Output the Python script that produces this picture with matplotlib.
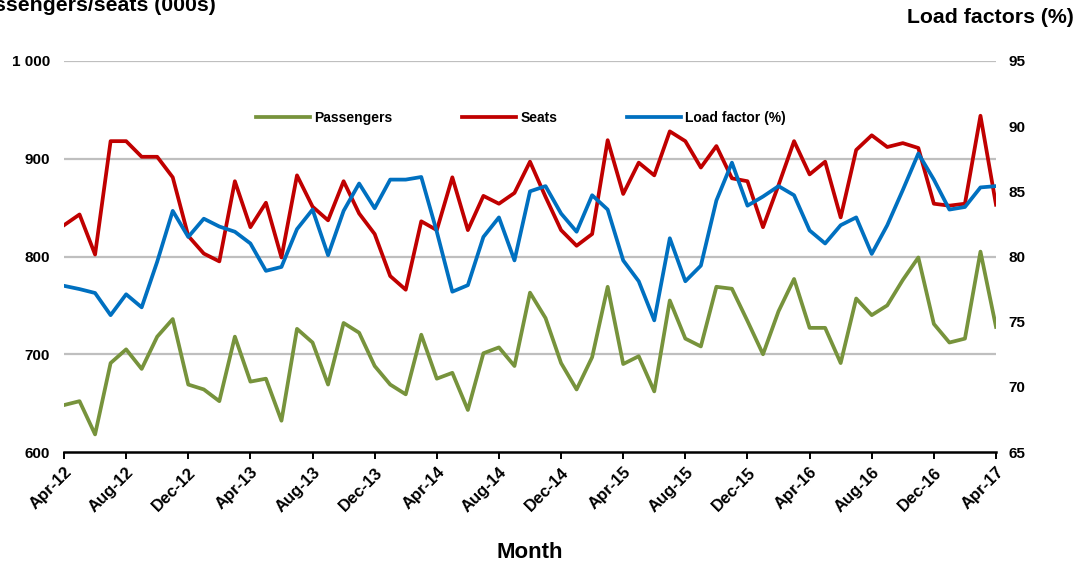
import matplotlib
matplotlib.use("Agg")
import matplotlib.pyplot as plt
from matplotlib.ticker import FuncFormatter
import numpy as np

plt.rcParams['font.family'] = ['Liberation Sans', 'DejaVu Sans']

months = ["Apr-12", "May-12", "Jun-12", "Jul-12", "Aug-12", "Sep-12", "Oct-12", "Nov-12", "Dec-12", "Jan-13",
          "Feb-13", "Mar-13", "Apr-13", "May-13", "Jun-13", "Jul-13", "Aug-13", "Sep-13", "Oct-13", "Nov-13",
          "Dec-13", "Jan-14", "Feb-14", "Mar-14", "Apr-14", "May-14", "Jun-14", "Jul-14", "Aug-14", "Sep-14",
          "Oct-14", "Nov-14", "Dec-14", "Jan-15", "Feb-15", "Mar-15", "Apr-15", "May-15", "Jun-15", "Jul-15",
          "Aug-15", "Sep-15", "Oct-15", "Nov-15", "Dec-15", "Jan-16", "Feb-16", "Mar-16", "Apr-16", "May-16",
          "Jun-16", "Jul-16", "Aug-16", "Sep-16", "Oct-16", "Nov-16", "Dec-16", "Jan-17", "Feb-17", "Mar-17",
          "Apr-17"]

passengers = [648, 652, 618, 691, 705, 685, 718, 736, 669, 664,
              652, 718, 672, 675, 632, 726, 712, 669, 732, 722,
              688, 669, 659, 720, 675, 681, 643, 701, 707, 688,
              763, 737, 691, 664, 697, 769, 690, 698, 662, 755,
              716, 708, 769, 767, 734, 700, 744, 777, 727, 727,
              691, 757, 740, 750, 776, 799, 731, 712, 716, 805,
              728]

seats = [832, 843, 802, 918, 918, 902, 902, 881, 821, 803,
         795, 877, 830, 855, 799, 883, 851, 837, 877, 844,
         823, 780, 766, 836, 827, 881, 827, 862, 854, 865,
         897, 861, 827, 811, 823, 919, 864, 896, 883, 928,
         918, 891, 913, 880, 877, 830, 873, 918, 884, 897,
         840, 909, 924, 912, 916, 911, 854, 852, 854, 944,
         853]

load_factor = [77.75, 77.5, 77.2, 75.5, 77.1, 76.1, 79.6, 83.5, 81.5, 82.9,
               82.3, 81.9, 81.0, 78.9, 79.2, 82.1, 83.6, 80.1, 83.5, 85.6,
               83.7, 85.9, 85.9, 86.1, 81.9, 77.3, 77.8, 81.5, 83.0, 79.7,
               85.0, 85.4, 83.3, 81.9, 84.7, 83.6, 79.7, 78.1, 75.1, 81.4,
               78.1, 79.3, 84.3, 87.2, 83.9, 84.6, 85.4, 84.7, 82.0, 81.0,
               82.4, 83.0, 80.2, 82.4, 85.1, 87.9, 85.9, 83.6, 83.8, 85.3,
               85.4]

left_ticks = [600, 700, 800, 900, 1000]
right_ticks = [65, 70, 75, 80, 85, 90, 95]

green = "#77933C"
red = "#C00000"
blue = "#0070C0"

fig = plt.figure(figsize=(10.81, 5.63), dpi=100)
ax = fig.add_axes([64/1081, 1-452/563, (996-64)/1081, (452-61)/563])
ax2 = ax.twinx()

x = np.arange(len(months))
lw = 2.7
l1, = ax.plot(x, passengers, color=green, lw=lw, label="Passengers", zorder=3)
l2, = ax.plot(x, seats, color=red, lw=lw, label="Seats", zorder=3)
l3, = ax2.plot(x, load_factor, color=blue, lw=lw, label="Load factor (%)", zorder=3)

ax.set_xlim(0, len(months) - 1)
ax.set_ylim(600, 1000)
ax2.set_ylim(65, 95)
ax.set_yticks(left_ticks)
ax2.set_yticks(right_ticks)
ax.yaxis.set_major_formatter(FuncFormatter(lambda v, p: f"{int(v):,}".replace(",", " ")))

for t in left_ticks[1:]:
    ax.axhline(t, color="#BFBFBF", lw=1.6, zorder=1)

for a in (ax, ax2):
    for s in ("left", "right", "top"):
        a.spines[s].set_visible(False)
ax2.spines["bottom"].set_visible(False)
ax.spines["bottom"].set_linewidth(1.8)
ax.spines["bottom"].set_color("black")

xt = x[::4]
ax.set_xticks(xt)
ax.set_xticklabels([months[i] for i in xt], rotation=45, ha="right", rotation_mode="anchor",
                   fontsize=12, fontweight="bold")
ax.tick_params(axis="x", direction="out", length=5, width=1.4, pad=4)
ax.tick_params(axis="y", length=0, pad=10, labelsize=11)
ax2.tick_params(axis="y", length=0, pad=9, labelsize=11)
for lab in ax.get_yticklabels() + ax2.get_yticklabels():
    lab.set_fontweight("bold")

fig.text(530/1081, 1-552/563, "Month", fontsize=16, fontweight="bold", ha="center", va="center")

fig.text(-0.0295, 1-11/563, "Passengers/seats (000s)", fontsize=15.3, fontweight="bold",
         ha="left", va="baseline")
fig.text(1074/1081, 1-8/563, "Load factors (%)", fontsize=15.3, fontweight="bold",
         ha="right", va="top")

leg = fig.legend(handles=[l1, l2, l3], loc="center", bbox_to_anchor=(521/1081, 1-118/563),
                 ncol=3, frameon=False, handlelength=3.9, columnspacing=5.0, handletextpad=0.3,
                 prop={"weight": "bold", "size": 10})

fig.savefig("out.png", dpi=100)
